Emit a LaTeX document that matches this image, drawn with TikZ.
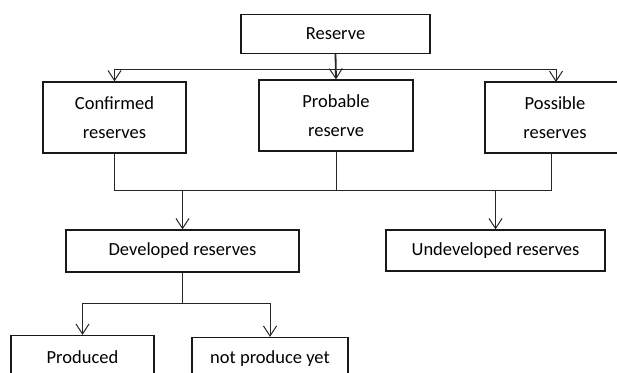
\documentclass[tikz,border=0pt]{standalone}
\usepackage{fontspec}
\setmainfont{Carlito}
\usetikzlibrary{arrows.meta}
\begin{document}
\begin{tikzpicture}[x=1pt,y=-1pt,
  box/.style={draw=black!90,line width=1.2pt,rectangle,inner sep=0pt,align=center,
    font=\fontsize{18.5}{29}\selectfont},
  conn/.style={line width=1pt,draw=black!85},
  arr/.style={conn,-{Straight Barb[length=10pt,width=13pt,line width=1pt]}}]
\useasboundingbox (0,0) rectangle (617,372);
\clip (0,0) rectangle (617,372);
\node[box,minimum width=189pt,minimum height=39pt] (res) at (335.5,34) {Reserve};
\node[box,minimum width=143pt,minimum height=71pt] (conf) at (114.5,117.5) {Confirmed\\reserves};
\node[box,minimum width=154pt,minimum height=71pt] (prob) at (336,115.5) {Probable\\reserve};
\node[box,minimum width=140pt,minimum height=71pt] (poss) at (555,117.5) {Possible\\reserves};
\node[box,minimum width=233pt,minimum height=42pt] (dev) at (182.5,251) {Developed reserves};
\node[box,minimum width=219pt,minimum height=41pt] (undev) at (495.5,250.5) {Undeveloped reserves};
\node[box,minimum width=143pt,minimum height=43pt] (prod) at (82.5,357) {Produced};
\node[box,minimum width=156pt,minimum height=43pt] (notyet) at (270,359) {not produce yet};
% top branching
\coordinate (t0) at (res.south |- 0,69);
\coordinate (tl) at (conf.north |- t0);
\coordinate (tr) at (556,69);
\coordinate (trb) at (556,82);
\draw[arr,line width=1.8pt] (res.south) -- (prob.north);
\draw[arr] (t0) -- (tl) -- (conf.north);
\draw[arr] (t0) -- (tr) -- (trb);
% middle merging
\coordinate (ml) at (conf.south |- 0,190);
\coordinate (mm) at (prob.south |- 0,190);
\coordinate (mr) at (551,190);
\coordinate (mrt) at (551,153);
\draw[conn] (conf.south) -- (ml) -- (mr) -- (mrt);
\draw[conn] (prob.south) -- (mm);
\draw[arr] (dev.north |- ml) -- (dev.north);
\draw[arr] (undev.north |- ml) -- (undev.north);
% bottom branching
\coordinate (b0) at (dev.south |- 0,303);
\draw[conn] (dev.south) -- (b0);
\draw[arr] (b0) -- (prod.north |- b0) -- (prod.north);
\draw[arr] (b0) -- (notyet.north |- b0) -- (notyet.north);
\end{tikzpicture}
\end{document}
